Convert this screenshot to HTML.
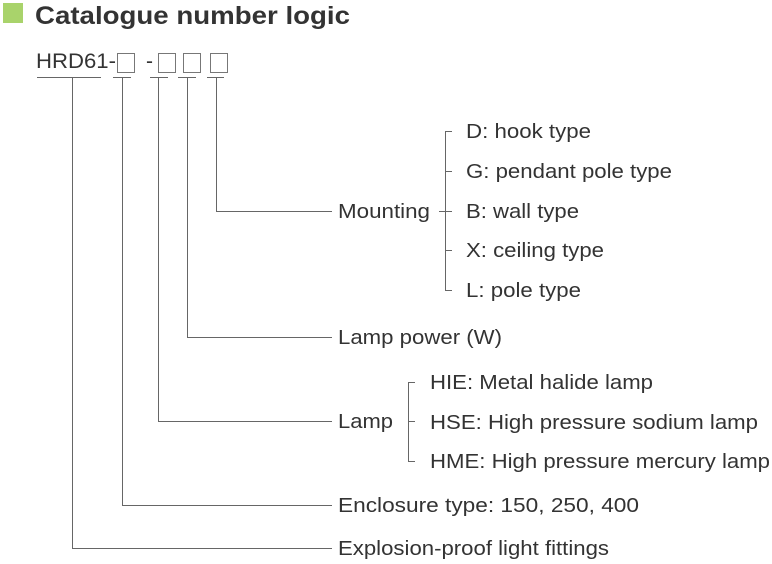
<!DOCTYPE html>
<html><head><meta charset="utf-8"><style>
html,body{margin:0;padding:0;background:#fff;}
svg{display:block;}
text{font-family:"Liberation Sans",Arial,sans-serif;fill:#333;}
</style></head><body>
<svg width="772" height="564" viewBox="0 0 772 564" xmlns="http://www.w3.org/2000/svg">
<rect x="3" y="3" width="20" height="20" fill="#a9d36b"/>
<text x="35" y="24" font-size="25" font-weight="bold" fill="#2a2a2a" textLength="315" lengthAdjust="spacingAndGlyphs">Catalogue number logic</text>
<text x="36" y="68" font-size="21" textLength="80" lengthAdjust="spacingAndGlyphs">HRD61-</text>
<text x="146" y="68" font-size="21">-</text>
<g fill="none" stroke="#777" stroke-width="1">
<rect x="117.5" y="53.5" width="17" height="19"/>
<rect x="158.5" y="53.5" width="17" height="19"/>
<rect x="183.5" y="53.5" width="17" height="19"/>
<rect x="210.5" y="53.5" width="17" height="19"/>
</g>
<g stroke="#666" stroke-width="1" fill="none">
<path d="M37 77.5H101M113 77.5H131M150 77.5H168M178 77.5H196M207 77.5H224"/>
<path d="M72.5 78V548.5H332"/>
<path d="M122.5 78V505.5H332"/>
<path d="M158.5 78V421.5H332"/>
<path d="M187.5 78V337.5H332"/>
<path d="M216.5 78V211.5H332"/>
<path d="M452 131.5H445.5V290.5H452M445 171.5H452M439 211.5H452M445 250.5H452"/>
<path d="M415 382.5H408.5V461.5H415M408 421.5H415"/>
</g>
<g font-size="20">
<text x="338" y="218" textLength="92" lengthAdjust="spacingAndGlyphs">Mounting</text>
<text x="466" y="138" textLength="125" lengthAdjust="spacingAndGlyphs">D: hook type</text>
<text x="466" y="178" textLength="206" lengthAdjust="spacingAndGlyphs">G: pendant pole type</text>
<text x="466" y="218" textLength="113" lengthAdjust="spacingAndGlyphs">B: wall type</text>
<text x="466" y="257" textLength="138" lengthAdjust="spacingAndGlyphs">X: ceiling type</text>
<text x="466" y="297" textLength="115" lengthAdjust="spacingAndGlyphs">L: pole type</text>
<text x="338" y="344" textLength="164" lengthAdjust="spacingAndGlyphs">Lamp power (W)</text>
<text x="338" y="428" textLength="55" lengthAdjust="spacingAndGlyphs">Lamp</text>
<text x="430" y="389" textLength="223" lengthAdjust="spacingAndGlyphs">HIE: Metal halide lamp</text>
<text x="430" y="429" textLength="328" lengthAdjust="spacingAndGlyphs">HSE: High pressure sodium lamp</text>
<text x="430" y="468" textLength="340" lengthAdjust="spacingAndGlyphs">HME: High pressure mercury lamp</text>
<text x="338" y="512" textLength="301" lengthAdjust="spacingAndGlyphs">Enclosure type:  150, 250, 400</text>
<text x="338" y="555" textLength="271" lengthAdjust="spacingAndGlyphs">Explosion-proof light fittings</text>
</g>
</svg>
</body></html>
